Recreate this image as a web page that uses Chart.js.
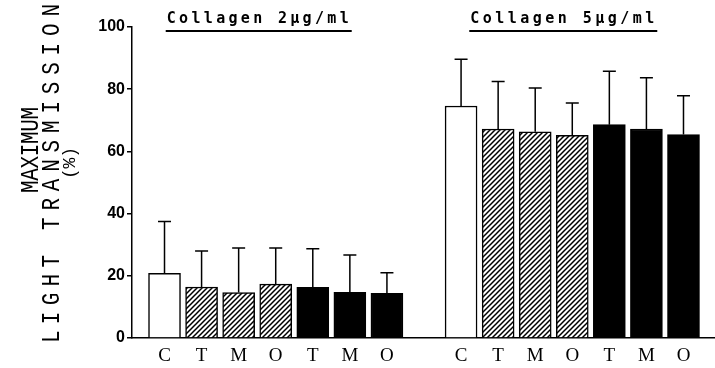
<!DOCTYPE html>
<html>
<head>
<meta charset="utf-8">
<script src="https://cdn.jsdelivr.net/npm/chart.js@4.4.0/dist/chart.umd.min.js"></script>
<style>
  body { margin: 0; background: #fff; }
  #box { width: 715px; height: 368px; }
</style>
</head>
<body>
<div id="box"><canvas id="grafico"></canvas></div>
<script>
// categorias e valores
const categorias = ["C", "T", "M", "O", "T", "M", "O"];
const preenchimento = ["aberto", "hachura", "hachura", "hachura", "cheio", "cheio", "cheio"];
const grupos = ["Collagen 2\u00b5g/ml", "Collagen 5\u00b5g/ml"];
const media2 = [20.8, 16.4, 14.6, 17.3, 16.3, 14.7, 14.4];
const dp2 = [16.7, 11.6, 14.3, 11.6, 12.4, 12.0, 6.6];
const media5 = [74.6, 67.2, 66.3, 65.2, 68.6, 67.2, 65.4];
const dp5 = [15.0, 15.3, 14.1, 10.4, 17.2, 16.5, 12.5];
const ticksY = [0, 20, 40, 60, 80, 100];

document.addEventListener("DOMContentLoaded", () => {
  // padrão hachurado "/"
  const criarHachura = () => {
    const c = document.createElement("canvas");
    c.width = 5;
    c.height = 5;
    const g = c.getContext("2d");
    g.fillStyle = "#fff";
    g.fillRect(0, 0, 5, 5);
    g.strokeStyle = "#000";
    g.lineWidth = 1.5;
    g.beginPath();
    g.moveTo(-1, 6); g.lineTo(6, -1);
    g.moveTo(-1, 1); g.lineTo(1, -1);
    g.moveTo(4, 6); g.lineTo(6, 4);
    g.stroke();
    return g.createPattern(c, "repeat");
  };
  const hachura = criarHachura();
  const corDe = (tipo) => (tipo === "cheio" ? "#000" : tipo === "hachura" ? hachura : "#fff");

  // posições: grupo 1 em 0..6, grupo 2 em 8..14
  const pontos = [];
  const desvios = [];
  const cores = [];
  [media2, media5].forEach((medias, g) => {
    medias.forEach((v, i) => {
      pontos.push({ x: g * 8 + i, y: v });
      desvios.push((g === 0 ? dp2 : dp5)[i]);
      cores.push(corDe(preenchimento[i]));
    });
  });
  const posicoes = pontos.map((p) => p.x);
  const rotulos = [...categorias, ...categorias];

  const barrasErro = {
    id: "barrasErro",
    afterDatasetsDraw(chart) {
      const { ctx } = chart;
      const y = chart.scales.y;
      const meta = chart.getDatasetMeta(0);
      ctx.save();
      ctx.strokeStyle = "#000";
      ctx.lineWidth = 1.5;
      meta.data.forEach((bar, i) => {
        const topo = y.getPixelForValue(pontos[i].y + desvios[i]);
        ctx.beginPath();
        ctx.moveTo(bar.x, bar.y);
        ctx.lineTo(bar.x, topo);
        ctx.moveTo(bar.x - 6.5, topo);
        ctx.lineTo(bar.x + 6.5, topo);
        ctx.stroke();
      });
      ctx.restore();
    }
  };

  const textoEspacado = (ctx, txt, cx, cy, largura) => {
    ctx.letterSpacing = "0px";
    const w = ctx.measureText(txt).width;
    const esp = txt.length > 1 ? (largura - w) / (txt.length - 1) : 0;
    ctx.letterSpacing = esp + "px";
    ctx.textAlign = "left";
    ctx.fillText(txt, cx - largura / 2, cy);
    ctx.letterSpacing = "0px";
  };

  const titulos = {
    id: "titulos",
    afterDraw(chart) {
      const { ctx } = chart;
      const x = chart.scales.x;
      ctx.save();
      ctx.fillStyle = "#000";
      ctx.strokeStyle = "#000";
      // rótulos dos grupos com sublinhado
      ctx.font = "bold 15px 'DejaVu Sans Mono'";
      ctx.textBaseline = "middle";
      grupos.forEach((txt, g) => {
        const cx = x.getPixelForValue(g * 8 + 3) - (g === 0 ? 18 : 10);
        const largura = g === 0 ? 182 : 184;
        textoEspacado(ctx, txt, cx, 19, largura);
        ctx.lineWidth = 1.8;
        ctx.beginPath();
        ctx.moveTo(cx - largura / 2 - 1, 31);
        ctx.lineTo(cx + largura / 2 + 3, 31);
        ctx.stroke();
      });
      // título do eixo Y (rotacionado)
      const linha = (txt, px, py, largura, fonte, esc) => {
        ctx.save();
        ctx.font = fonte;
        ctx.translate(px, py);
        ctx.rotate(-Math.PI / 2);
        ctx.scale(1, esc);
        textoEspacado(ctx, txt, 0, 0, largura);
        ctx.restore();
      };
      const fonteTitulo = "21px 'Liberation Mono'";
      linha("MAXIMUM", 31, 150, 86, fonteTitulo, 1.22);
      linha("LIGHT", 52, 299, 88, fonteTitulo, 1.22);
      linha("TRANSMISSION", 52, 117, 226, fonteTitulo, 1.22);
      linha("(%)", 70, 163, 32, "18px 'Liberation Mono'", 1);
      ctx.restore();
    }
  };

  new Chart(document.getElementById("grafico").getContext("2d"), {
    type: "bar",
    data: {
      datasets: [
        {
          data: pontos,
          backgroundColor: cores,
          borderColor: "#000",
          borderWidth: 1.5,
          barThickness: 32
        }
      ]
    },
    options: {
      responsive: true,
      maintainAspectRatio: false,
      animation: false,
      layout: { padding: { top: 27, right: 0, bottom: 0, left: 0 } },
      plugins: {
        legend: { display: false },
        tooltip: { enabled: false }
      },
      scales: {
        x: {
          type: "linear",
          offset: false,
          min: -0.877,
          max: 14.85,
          afterFit(scale) { scale.height = 30; },
          afterBuildTicks(scale) {
            scale.ticks = posicoes.map((v) => ({ value: v }));
          },
          grid: { display: false, drawTicks: false },
          border: { display: true, color: "#000", width: 1.5 },
          ticks: {
            autoSkip: false,
            maxRotation: 0,
            padding: 7,
            color: "#000",
            font: { family: "'Liberation Serif'", size: 19 },
            callback: (v) => rotulos[posicoes.indexOf(v)] || ""
          }
        },
        y: {
          min: 0,
          max: 100,
          afterFit(scale) { scale.width = 132; },
          afterBuildTicks(scale) {
            scale.ticks = ticksY.map((v) => ({ value: v }));
          },
          grid: { drawOnChartArea: false, drawTicks: true, tickLength: 5, color: "#000", lineWidth: 1.5 },
          border: { display: true, color: "#000", width: 1.5 },
          ticks: {
            padding: 2,
            color: "#000",
            font: { family: "'Liberation Sans'", size: 16, weight: "bold" }
          }
        }
      }
    },
    plugins: [barrasErro, titulos]
  });
});
</script>
</body>
</html>
